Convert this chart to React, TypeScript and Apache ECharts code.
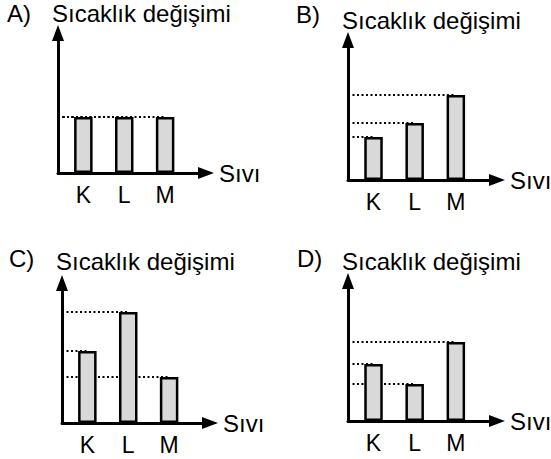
import React, { useEffect, useRef } from 'react';
import * as echarts from 'echarts';

// ---- data ----
const CATEGORIES = ['K', 'L', 'M'];
const PANEL_LETTERS = ['A)', 'B)', 'C)', 'D)'];
const Y_TITLE = 'Sıcaklık değişimi';
const X_TITLE = 'Sıvı';
const VALUES_A = [56, 56, 56];
const VALUES_B = [43, 57, 85];
const VALUES_C = [72, 111, 46];
const VALUES_D = [57, 37, 79];

// ---- scales / layout ----
const X_MIN = -0.62;
const X_MAX = 3;
const Y_MAX = 140;
const FONT = '"Liberation Sans", Arial, Helvetica, sans-serif';

const PANELS = [
  { values: VALUES_A, grid: { left: 58, top: 33, width: 148, height: 140 }, letter: { left: 7, top: 1 }, title: { left: 52, top: 1 } },
  { values: VALUES_B, grid: { left: 348, top: 40, width: 149, height: 140 }, letter: { left: 296, top: 2 }, title: { left: 342, top: 8 } },
  { values: VALUES_C, grid: { left: 62, top: 283, width: 148, height: 140 }, letter: { left: 9, top: 246 }, title: { left: 56, top: 249 } },
  { values: VALUES_D, grid: { left: 348, top: 281, width: 149, height: 140 }, letter: { left: 297, top: 246 }, title: { left: 342, top: 249 } },
];

const axisLineStyle = { color: '#000', width: 3 };
const textStyle = { fontSize: 24, fontWeight: 'normal', color: '#000', fontFamily: FONT };

function buildOption() {
  const grid: any[] = [];
  const xAxis: any[] = [];
  const yAxis: any[] = [];
  const series: any[] = [];
  const title: any[] = [];

  PANELS.forEach((p, idx) => {
    grid.push({ ...p.grid, containLabel: false, outerBoundsMode: 'none' });
    xAxis.push({
      type: 'value',
      gridIndex: idx,
      min: X_MIN,
      max: X_MAX,
      name: X_TITLE,
      nameLocation: 'end',
      nameGap: 13,
      nameTextStyle: { fontSize: 24, color: '#000', fontFamily: FONT, align: 'left', verticalAlign: 'middle' },
      axisLine: { show: true, onZero: false, symbol: ['none', 'triangle'], symbolSize: [12, 16], lineStyle: axisLineStyle },
      axisTick: { show: false },
      splitLine: { show: false },
      axisLabel: {
        show: true,
        customValues: CATEGORIES.map((_, i) => i),
        formatter: (v: number) => {
          const c = CATEGORIES[Math.round(v)];
          return Math.abs(v - Math.round(v)) < 1e-6 && c ? c : '';
        },
        fontSize: 23,
        color: '#000',
        fontFamily: FONT,
        margin: 10,
      },
    });
    yAxis.push({
      type: 'value',
      gridIndex: idx,
      min: 0,
      max: Y_MAX,
      axisLine: { show: true, onZero: false, symbol: ['none', 'triangle'], symbolSize: [12, 16], lineStyle: axisLineStyle },
      axisTick: { show: false },
      axisLabel: { show: false },
      splitLine: { show: false },
    });
    series.push({
      type: 'bar',
      xAxisIndex: idx,
      yAxisIndex: idx,
      barWidth: 18.5,
      z: 3,
      data: p.values.map((v, i) => [i, v]),
      itemStyle: { color: '#d9d9d9', borderColor: '#000', borderWidth: 2.5 },
      emphasis: { disabled: true },
      silent: true,
      markLine: {
        z: 1,
        silent: true,
        symbol: ['none', 'none'],
        label: { show: false },
        emphasis: { disabled: true },
        lineStyle: { color: '#000', width: 2, type: [2, 2.5] },
        data: p.values.map((v, i) => [{ coord: [X_MIN, v] }, { coord: [i, v] }]),
      },
    });
    title.push({
      text: PANEL_LETTERS[idx],
      left: p.letter.left,
      top: p.letter.top,
      padding: 0,
      textStyle,
    });
    title.push({
      text: Y_TITLE,
      left: p.title.left,
      top: p.title.top,
      padding: 0,
      textStyle,
    });
  });

  return {
    animation: false,
    backgroundColor: '#fff',
    title,
    grid,
    xAxis,
    yAxis,
    series,
  };
}

export default function App() {
  const ref = useRef<HTMLDivElement | null>(null);
  useEffect(() => {
    if (!ref.current) return;
    const chart = echarts.init(ref.current, undefined, { renderer: 'svg' });
    chart.setOption(buildOption() as any);
    return () => {
      chart.dispose();
    };
  }, []);
  return (
    <div
      ref={ref}
      style={{ position: 'fixed', left: 0, top: 0, width: 551, height: 459, background: '#fff' }}
    />
  );
}
